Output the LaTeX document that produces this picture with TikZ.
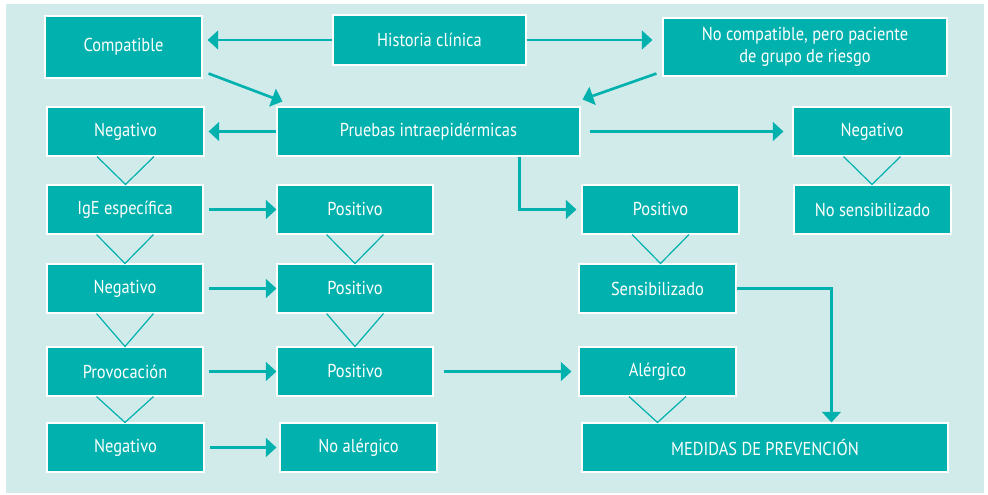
\documentclass[tikz,border=0pt]{standalone}
\usepackage{fontspec}
\setmainfont{PT Sans}[FakeStretch=0.88]
\usetikzlibrary{arrows.meta,calc}
\definecolor{teal1}{HTML}{00B1AE}
\definecolor{bgc}{HTML}{D1EBEB}
\tikzset{
  box/.style={draw=white, line width=0.8pt, fill=teal1, text=white, inner sep=0pt, align=center, font=\fontsize{14}{17}\selectfont},
  conn/.style={draw=teal1, line width=2pt, -{Triangle[length=8pt,width=14pt]}},
  chev/.style={draw=teal1, line width=0.9pt},
}
\newcommand\mybox[6]{\node[box, minimum width={(#4-#2)*0.75pt}, minimum height={(#5-#3)*0.75pt}] (#1) at ({(#2+#4)/2},{(#3+#5)/2}) {#6};}
\begin{document}
\begin{tikzpicture}[x=0.75pt,y=-0.75pt]
\useasboundingbox (0,0) rectangle (988,495);
\fill[white] (0,0) rectangle (988,495);
\fill[bgc] (6,4) rectangle (984,493);
% row 1
\mybox{comp}{45}{16}{202}{78}{Compatible}
\mybox{hist}{333}{15}{526}{65}{Historia clínica}
\mybox{nocomp}{663}{18}{947}{76}{No compatible, pero paciente\\de grupo de riesgo}
% row 2
\mybox{negA}{47}{107}{204}{156}{Negativo}
\mybox{prue}{277}{107}{580}{156}{Pruebas intraepidérmicas}
\mybox{negR}{793}{107}{951}{156}{Negativo}
% row 3
\mybox{ige}{47}{185}{203}{234}{IgE específica}
\mybox{posA}{277}{185}{433}{234}{Positivo}
\mybox{posR}{582}{185}{739}{234}{Positivo}
\mybox{nosens}{794}{185}{951}{234}{No sensibilizado}
% row 4
\mybox{negB}{47}{264}{203}{313}{Negativo}
\mybox{posB}{277}{264}{433}{313}{Positivo}
\mybox{sens}{579}{264}{736}{313}{Sensibilizado}
% row 5
\mybox{prov}{47}{347}{203}{396}{Provocación}
\mybox{posC}{277}{347}{433}{396}{Positivo}
\mybox{alerg}{579}{347}{736}{396}{Alérgico}
% row 6
\mybox{negC}{47}{423}{204}{472}{Negativo}
\mybox{noal}{280}{423}{437}{472}{No alérgico}
\mybox{med}{582}{423}{948}{472}{MEDIDAS DE PREVENCIÓN}
% connectors
\draw[conn, shorten >=3.75pt] (hist.west) -- (hist.west -| comp.east);
\draw[conn, shorten >=7.5pt] (hist.east) -- (hist.east -| nocomp.west);
\draw[conn] ($(comp.south east)+(6,-5)$) -- ($(prue.north west)+(6,-5)$);
\draw[conn] ($(nocomp.south west)+(-6,-3)$) -- ($(prue.north east)+(2,-7)$);
\draw[conn, shorten >=3pt] (prue.west) -- (negA.east);
\draw[conn, shorten <=6.75pt, shorten >=6.75pt] (prue.east) -- (negR.west);
\draw[conn, shorten >=3.75pt] ($(prue.south west)+(243,0)$) |- (posR.west);
\draw[conn, shorten <=3.75pt] (ige.east) -- (posA.west);
\draw[conn, shorten <=3.75pt] (negB.east) -- (posB.west);
\draw[conn, shorten <=3.75pt] (prov.east) -- (posC.west);
\draw[conn, shorten <=7.5pt, shorten >=5.25pt] (posC.east) -- (alerg.west);
\draw[conn, shorten <=3.75pt, shorten >=2.25pt] (negC.east) -- (noal.west);
\draw[conn] (sens.east) -| ($(med.north west)+(250,0)$);
% chevrons
\foreach \a/\b in {negA/ige, ige/negB, negB/prov, prov/negC, posA/posB, posB/posC, negR/nosens, posR/sens, alerg/med}{
  \draw[chev] ($(\a.south)+(-28.5,0)$) -- (\a.south |- \b.north) -- ($(\a.south)+(28.5,0)$);
}
\end{tikzpicture}
\end{document}
